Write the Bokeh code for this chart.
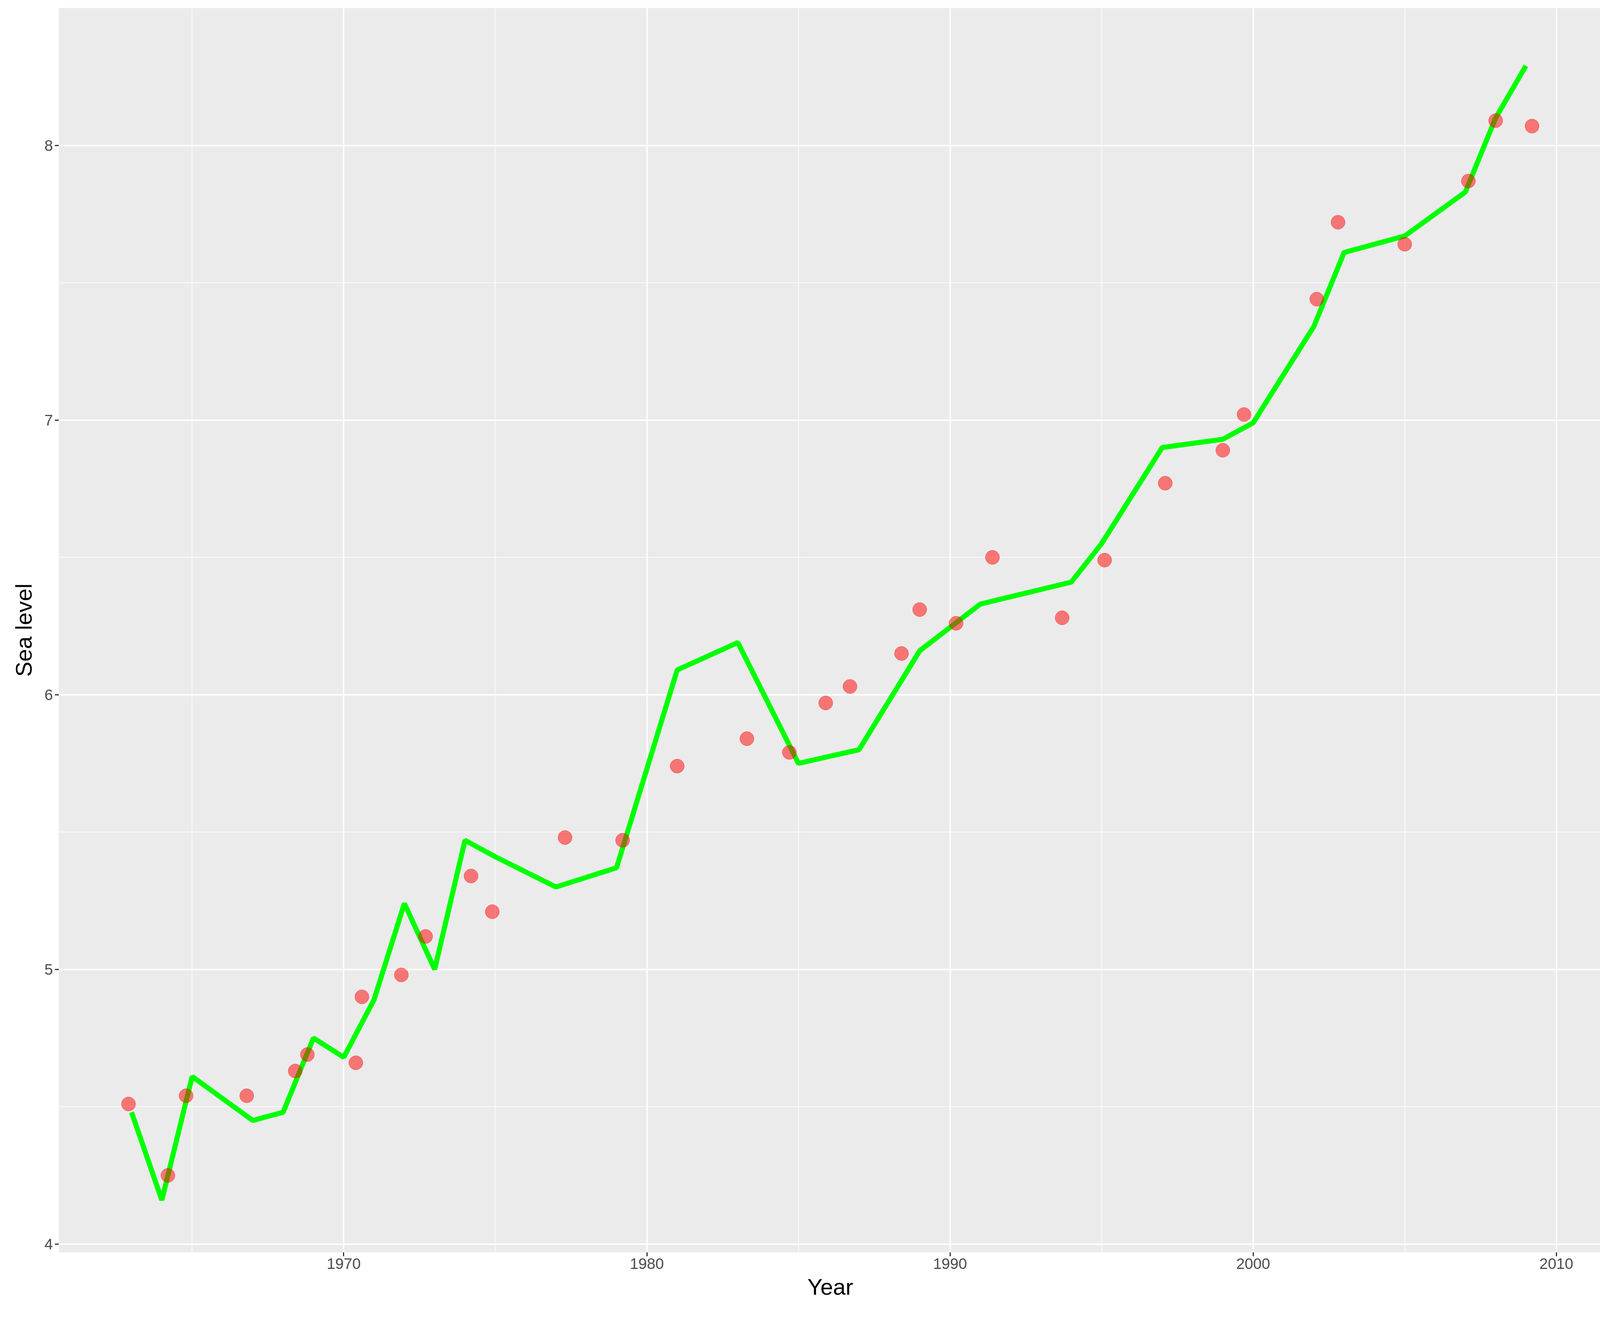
from bokeh.plotting import figure
from bokeh.models import FixedTicker, Range1d
from bokeh.embed import file_html
from bokeh.resources import INLINE

line_year = [1963,1964,1965,1967,1968,1969,1970,1971,1972,1973,1974,1975,1977,1979,1981,1983,1985,1987,1989,1991,1994,1995,1997,1999,2000,2002,2003,2005,2007,2008,2009]
line_level = [4.48,4.16,4.61,4.45,4.48,4.75,4.68,4.89,5.24,5.00,5.47,5.41,5.30,5.37,6.09,6.19,5.75,5.80,6.16,6.33,6.41,6.55,6.90,6.93,6.99,7.34,7.61,7.67,7.83,8.10,8.29]
pt_year = [1962.9,1964.2,1964.8,1966.8,1968.4,1968.8,1970.4,1970.6,1971.9,1972.7,1974.2,1974.9,1977.3,1979.2,1981.0,1983.3,1984.7,1985.9,1986.7,1988.4,1989.0,1990.2,1991.4,1993.7,1995.1,1997.1,1999.0,1999.7,2002.1,2002.8,2005.0,2007.1,2008.0,2009.2]
pt_level = [4.51,4.25,4.54,4.54,4.63,4.69,4.66,4.90,4.98,5.12,5.34,5.21,5.48,5.47,5.74,5.84,5.79,5.97,6.03,6.15,6.31,6.26,6.50,6.28,6.49,6.77,6.89,7.02,7.44,7.72,7.64,7.87,8.09,8.07]
x_ticks = [1970,1980,1990,2000,2010]
y_ticks = [4,5,6,7,8]

p = figure(width=4120, height=3390, output_backend="svg", toolbar_location=None,
           x_range=Range1d(1960.6, 2011.5), y_range=Range1d(3.97, 8.50),
           background_fill_color="#EBEBEB", border_fill_color="white",
           min_border_left=150, min_border_right=20, min_border_top=20, min_border_bottom=185)
p.outline_line_color = None
p.xaxis.ticker = FixedTicker(ticks=x_ticks, minor_ticks=[1965,1975,1985,1995,2005])
p.yaxis.ticker = FixedTicker(ticks=y_ticks, minor_ticks=[4.5,5.5,6.5,7.5])
for ax in (p.xaxis, p.yaxis):
    ax.axis_line_color = None
    ax.major_tick_line_color = "#333333"
    ax.major_tick_line_width = 3
    ax.major_tick_out = 10
    ax.major_tick_in = 0
    ax.minor_tick_line_color = None
    ax.major_label_text_font = "Liberation Sans"
    ax.major_label_text_font_size = "39px"
    ax.major_label_text_color = "#4D4D4D"
    ax.axis_label_text_font = "Liberation Sans"
    ax.axis_label_text_font_size = "58px"
    ax.axis_label_text_font_style = "normal"
    ax.axis_label_text_color = "black"
p.xaxis.axis_label = "Year"
p.yaxis.axis_label = "Sea level"
p.xaxis.axis_label_standoff = 10
p.yaxis.axis_label_standoff = 18
for g in (p.xgrid, p.ygrid):
    g.grid_line_color = "white"
    g.grid_line_width = 3.5
    g.minor_grid_line_color = "white"
    g.minor_grid_line_width = 1.7
p.line(line_year, line_level, line_color="#00FF00", line_width=13)
p.scatter(pt_year, pt_level, size=36, fill_color="#FF0000", fill_alpha=0.5, line_color="#FF0000", line_alpha=0.5)

open("out.html", "w").write(file_html(p, INLINE))
